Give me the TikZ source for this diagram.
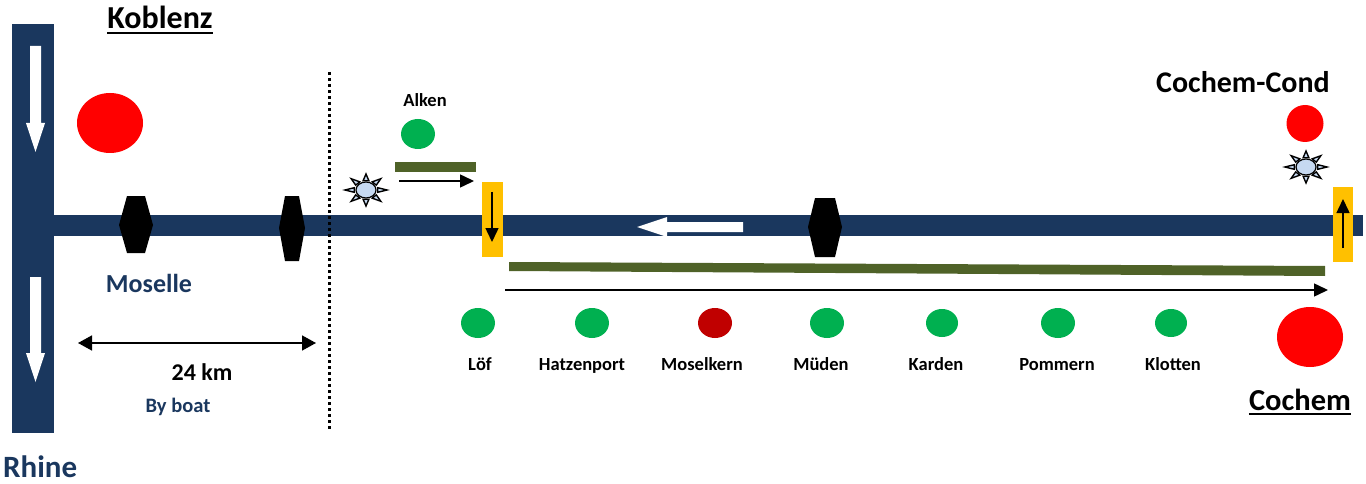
\documentclass[tikz,border=0pt]{standalone}
\usepackage{fontspec}
\setmainfont{Carlito}
\usetikzlibrary{arrows.meta,shapes.geometric}
\definecolor{navy}{HTML}{1A375E}
\definecolor{stgreen}{HTML}{00B050}
\definecolor{stdark}{HTML}{C00000}
\definecolor{stred}{HTML}{FF0000}
\definecolor{lockyel}{HTML}{FFC000}
\definecolor{olive}{HTML}{4F6228}
\definecolor{sunblue}{HTML}{C6D9F1}
\tikzset{
  lbl/.style={font=\bfseries\fontsize{18.5}{20}\selectfont, inner sep=0pt, anchor=base},
  stn/.style={ellipse, inner sep=0pt, minimum width=34pt, minimum height=30pt, fill=stgreen},
  blk/.style={line width=1.5pt, -{Triangle[length=14pt,width=13pt]}},
  sunpic/.pic={
    \foreach \a in {0,45,...,315}{
      \filldraw[fill=sunblue, draw=black, line width=1.4pt, line join=miter]
        ({21*cos(\a)},{16*sin(\a)}) -- ({12*cos(\a+14)},{9.5*sin(\a+14)}) -- ({12*cos(\a-14)},{9.5*sin(\a-14)}) -- cycle;
    }
    \filldraw[fill=sunblue, draw=black, line width=1.2pt] (0,0) ellipse (10 and 8);
  }
}
\begin{document}
\begin{tikzpicture}[x=1pt,y=-1pt]
\useasboundingbox (0,0) rectangle (1366,484);
% rivers
\fill[navy] (12,24) rectangle (54,433);
\fill[navy] (54,215) rectangle (1363,236);
% Rhine white arrows
\fill[white] (30,46) -- (41,46) -- (41,123) -- (45,123) -- (35.5,152) -- (26,123) -- (30,123) -- cycle;
\fill[white] (30,277) -- (41,277) -- (41,353) -- (45,353) -- (35.5,382) -- (26,353) -- (30,353) -- cycle;
% Moselle white arrow
\fill[white] (743,222) -- (667,222) -- (667,217) -- (637,227) -- (667,237) -- (667,232) -- (743,232) -- cycle;
% locks (hexagons)
\fill[black] (127,196) -- (145,196) -- (153,225) -- (145,253) -- (127,253) -- (119,225) -- cycle;
\fill[black] (285,196) -- (299,196) -- (305,228) -- (299,261) -- (285,261) -- (279,228) -- cycle;
\fill[black] (815,198) -- (835,198) -- (842,227) -- (835,257) -- (815,257) -- (808,227) -- cycle;
% dotted line
\draw[line width=3pt, dash pattern=on 3pt off 3pt] (329,72) -- (329,430);
% titles
\node[lbl, font=\bfseries\fontsize{32}{34}\selectfont] (kob) at (160,29) {Koblenz};
\draw[line width=2.5pt] ([yshift=-4pt]kob.base west) -- ([yshift=-4pt]kob.base east);
\node[lbl, font=\bfseries\fontsize{30}{32}\selectfont] (cc) at (1243,93) {Cochem-Cond};
\node[lbl, font=\bfseries\fontsize{30.5}{32}\selectfont] (coc) at (1300,410) {Cochem};
\draw[line width=2.5pt] ([yshift=-4pt]coc.base west) -- ([yshift=-4pt]coc.base east);
\node[lbl, font=\bfseries\fontsize{31}{33}\selectfont, text=navy, anchor=base west] (rhine) at (3,477) {Rhine};
\node[lbl, font=\bfseries\fontsize{26}{28}\selectfont, text=navy] (mos) at (149,292) {Moselle};
\node[lbl, font=\bfseries\fontsize{24}{26}\selectfont] (km) at (202,380) {24 km};
\node[lbl, font=\bfseries\fontsize{20.5}{22}\selectfont, text=navy] (boat) at (178,412) {By boat};
% 24 km arrow
\coordinate (dl) at (78,343);
\coordinate (dr) at (316,343);
\draw[line width=1.5pt, {Triangle[length=14pt,width=15pt]}-{Triangle[length=14pt,width=15pt]}] (dl) -- (dr);
% big red circles
\node[ellipse, inner sep=0pt, minimum width=66pt, minimum height=60pt, fill=stred] (kobc) at (110,123) {};
\node[ellipse, inner sep=0pt, minimum width=66pt, minimum height=60pt, fill=stred] (cocc) at (1310,337) {};
\node[circle, inner sep=0pt, minimum size=37pt, fill=stred] (ccc) at (1305,123.5) {};
% Alken
\node[lbl] (alken) at (425,107) {Alken};
\node[stn] (alkc) at (418,134) {};
\fill[olive] (395,162) rectangle (476,172);
\coordinate (a1) at (399,181);
\coordinate (a2) at (474,181);
\draw[blk] (a1) -- (a2);
\pic at (366,190) {sunpic};
\pic at (1306,167) {sunpic};
% yellow locks
\node[fill=lockyel, inner sep=0pt, minimum width=21pt, minimum height=75pt] (y1) at (492.5,219.5) {};
\node[fill=lockyel, inner sep=0pt, minimum width=20pt, minimum height=75pt] (y2) at (1343,224.5) {};
\coordinate (y1t) at (492,192);
\coordinate (y1b) at (492,242);
\draw[blk] (y1t) -- (y1b);
\coordinate (y2t) at (1343,199);
\coordinate (y2b) at (1343,248);
\draw[blk] (y2b) -- (y2t);
% long bar and arrow
\fill[olive] (509,262) -- (1325,266) -- (1325,276) -- (509,271) -- cycle;
\coordinate (l1) at (505,290);
\coordinate (l2) at (1328,290);
\draw[blk] (l1) -- (l2);
% stations
\node[stn] (lofc) at (478,323) {};
\node[stn] (hatc) at (592,323) {};
\node[stn, fill=stdark] (mosc) at (715,323) {};
\node[stn] (mudc) at (827,323) {};
\node[stn, minimum width=32pt, minimum height=28pt] (karc) at (942,323) {};
\node[stn] (pomc) at (1058,323) {};
\node[stn, minimum width=32pt, minimum height=28pt] (kloc) at (1171,323) {};
\node[lbl] (lof) at (480,370) {Löf};
\node[lbl] (hat) at (582,370) {Hatzenport};
\node[lbl] (mosk) at (702,370) {Moselkern};
\node[lbl] (mud) at (821,370) {Müden};
\node[lbl] (kar) at (936,370) {Karden};
\node[lbl] (pom) at (1057,370) {Pommern};
\node[lbl] (klo) at (1173,370) {Klotten};
\end{tikzpicture}
\end{document}
